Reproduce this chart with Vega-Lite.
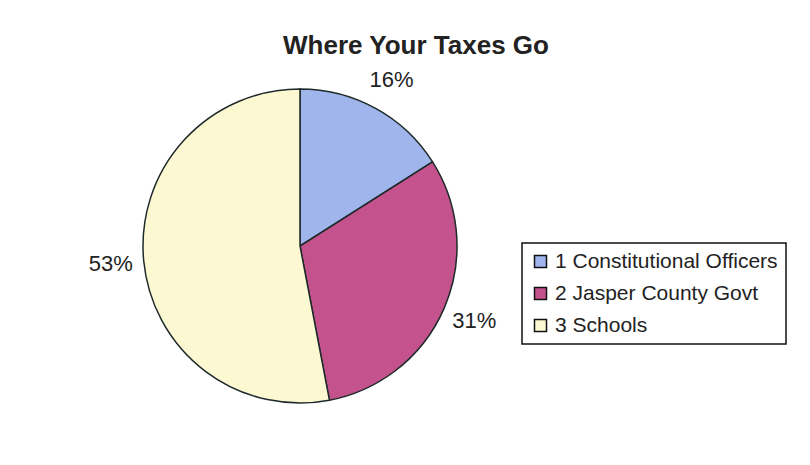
{
  "$schema": "https://vega.github.io/schema/vega-lite/v6.json",
  "autosize": {"type": "none"},
  "width": 314,
  "height": 316,
  "padding": {"left": 143, "top": 88, "right": 353, "bottom": 61},
  "background": "white",
  "title": {
    "text": "Where Your Taxes Go",
    "fontSize": 26,
    "font": "Liberation Sans",
    "fontWeight": "bold",
    "color": "#222222",
    "anchor": "middle",
    "dx": 116,
    "offset": 10
  },
  "data": {
    "values": [
      {"category": "1 Constitutional Officers", "share": 0.16},
      {"category": "2 Jasper County Govt", "share": 0.31},
      {"category": "3 Schools", "share": 0.53}
    ]
  },
  "layer": [
    {
      "mark": {"type": "arc", "stroke": "#1e2a2a", "strokeWidth": 1.5},
      "encoding": {
        "theta": {"field": "share", "type": "quantitative", "stack": true},
        "order": {"field": "category", "type": "ordinal"},
        "color": {
          "field": "category",
          "type": "nominal",
          "scale": {
            "domain": ["1 Constitutional Officers", "2 Jasper County Govt", "3 Schools"],
            "range": ["#a0b5ec", "#c4528c", "#fcf8d2"]
          },
          "legend": {
            "orient": "none",
            "legendX": 379,
            "legendY": 155,
            "title": null,
            "padding": 8,
            "strokeColor": "#111111",
            "fillColor": "white",
            "symbolType": "square",
            "symbolSize": 144,
            "symbolStrokeColor": "#111111",
            "symbolStrokeWidth": 1.5,
            "symbolOpacity": 1,
            "labelFontSize": 21,
            "labelFont": "Liberation Sans",
            "labelColor": "#222222",
            "labelLimit": 400,
            "labelOffset": 4,
            "rowPadding": 10,
            "encode": {"legend": {"update": {"strokeWidth": {"value": 1.5}}}}
          }
        }
      }
    },
    {
      "mark": {"type": "text", "radius": 190, "fontSize": 22, "font": "Liberation Sans", "color": "#222222"},
      "encoding": {
        "theta": {"field": "share", "type": "quantitative", "stack": true},
        "order": {"field": "category", "type": "ordinal"},
        "detail": {"field": "category", "type": "nominal"},
        "text": {"field": "share", "type": "quantitative", "format": ".0%"}
      }
    }
  ]
}
